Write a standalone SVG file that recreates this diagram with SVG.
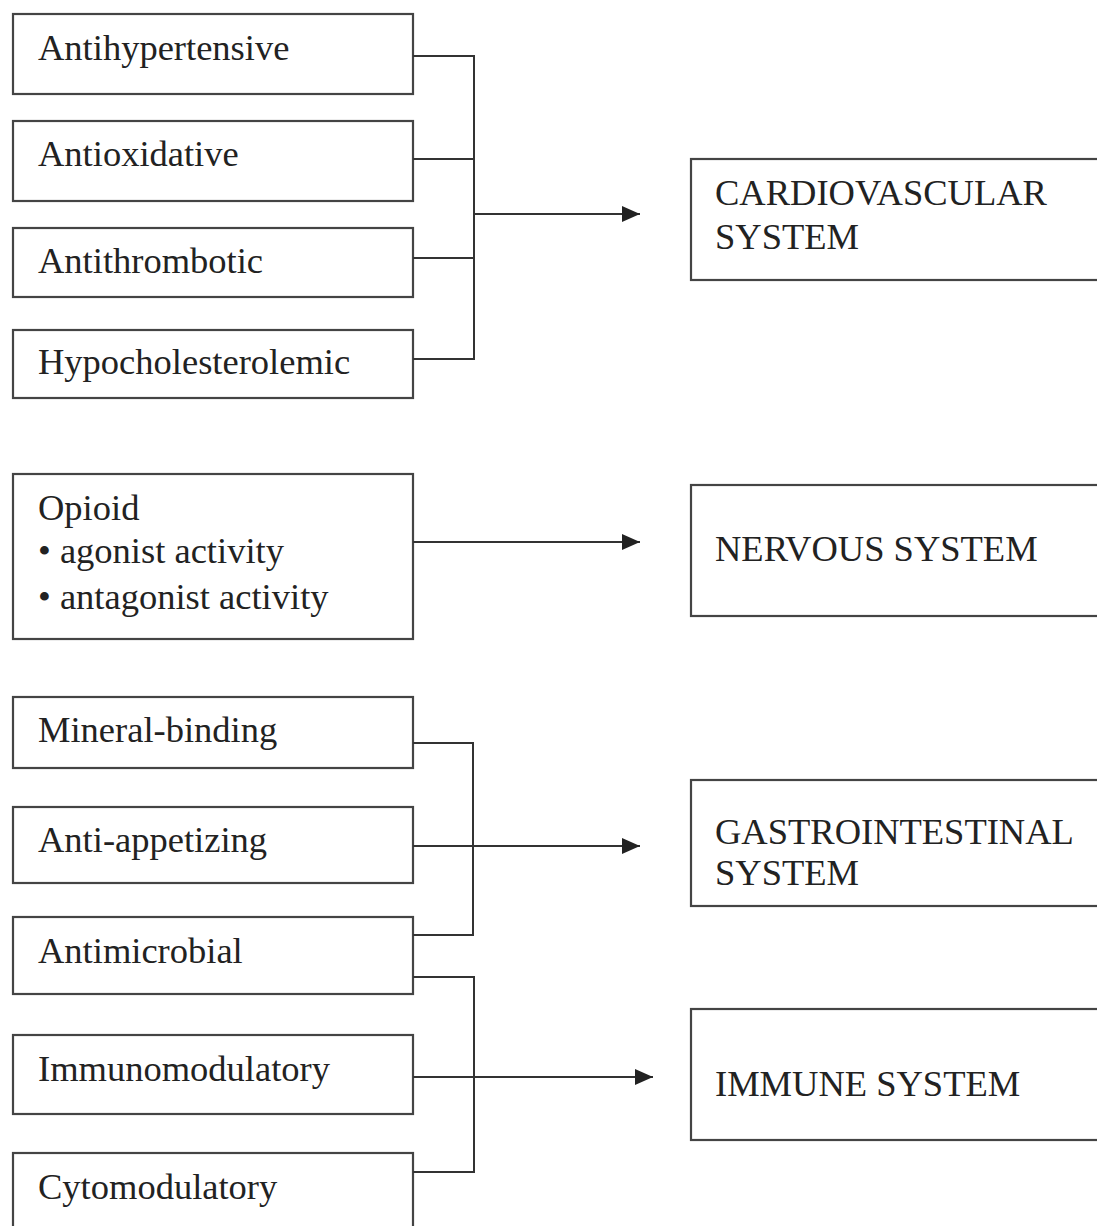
<svg xmlns="http://www.w3.org/2000/svg" width="1097" height="1226" viewBox="0 0 1097 1226">
<style>
.box{fill:#fff;stroke:#444;stroke-width:2.2}
.t{font-family:"Liberation Serif","Times New Roman",serif;font-size:36.5px;fill:#222}
.c{fill:none;stroke:#333;stroke-width:2}
</style>
<defs>
<marker id="ah" markerWidth="18" markerHeight="16" refX="18" refY="8" orient="auto" markerUnits="userSpaceOnUse">
<path d="M0,0 L18,8 L0,16 Z" fill="#222"/>
</marker>
</defs>
<rect width="1097" height="1226" fill="#fff"/>
<g id="n-antihypertensive"><rect class="box" x="13" y="14" width="400" height="80"/><text class="t" x="38" y="60">Antihypertensive</text></g>
<g id="n-antioxidative"><rect class="box" x="13" y="121" width="400" height="80"/><text class="t" x="38" y="166">Antioxidative</text></g>
<g id="n-antithrombotic"><rect class="box" x="13" y="228" width="400" height="69"/><text class="t" x="38" y="273">Antithrombotic</text></g>
<g id="n-hypocholesterolemic"><rect class="box" x="13" y="330" width="400" height="68"/><text class="t" x="38" y="374">Hypocholesterolemic</text></g>
<g id="n-opioid"><rect class="box" x="13" y="474" width="400" height="165"/><text class="t" x="38" y="520">Opioid</text><text class="t" x="38" y="563">• agonist activity</text><text class="t" x="38" y="609">• antagonist activity</text></g>
<g id="n-mineral"><rect class="box" x="13" y="697" width="400" height="71"/><text class="t" x="38" y="742">Mineral-binding</text></g>
<g id="n-antiappetizing"><rect class="box" x="13" y="807" width="400" height="76"/><text class="t" x="38" y="852">Anti-appetizing</text></g>
<g id="n-antimicrobial"><rect class="box" x="13" y="917" width="400" height="77"/><text class="t" x="38" y="963">Antimicrobial</text></g>
<g id="n-immunomodulatory"><rect class="box" x="13" y="1035" width="400" height="79"/><text class="t" x="38" y="1081">Immunomodulatory</text></g>
<g id="n-cytomodulatory"><rect class="box" x="13" y="1153" width="400" height="90"/><text class="t" x="38" y="1199">Cytomodulatory</text></g>
<g id="n-cardio"><rect class="box" x="691" y="159" width="420" height="121"/><text class="t" x="715" y="205">CARDIOVASCULAR</text><text class="t" x="715" y="249">SYSTEM</text></g>
<g id="n-nervous"><rect class="box" x="691" y="485" width="420" height="131"/><text class="t" x="715" y="561">NERVOUS SYSTEM</text></g>
<g id="n-gastro"><rect class="box" x="691" y="780" width="420" height="126"/><text class="t" x="715" y="844">GASTROINTESTINAL</text><text class="t" x="715" y="885">SYSTEM</text></g>
<g id="n-immune"><rect class="box" x="691" y="1009" width="420" height="131"/><text class="t" x="715" y="1096">IMMUNE SYSTEM</text></g>
<g id="connectors">
<path class="c" d="M413,56 H474 V359 H413 M413,159 H474 M413,258 H474"/>
<path class="c" d="M474,214 H640" marker-end="url(#ah)"/>
<path class="c" d="M413,542 H640" marker-end="url(#ah)"/>
<path class="c" d="M413,743 H473 V935 H413"/>
<path class="c" d="M413,846 H640" marker-end="url(#ah)"/>
<path class="c" d="M413,977 H474 V1172 H413"/>
<path class="c" d="M413,1077 H653" marker-end="url(#ah)"/>
</g>
</svg>
